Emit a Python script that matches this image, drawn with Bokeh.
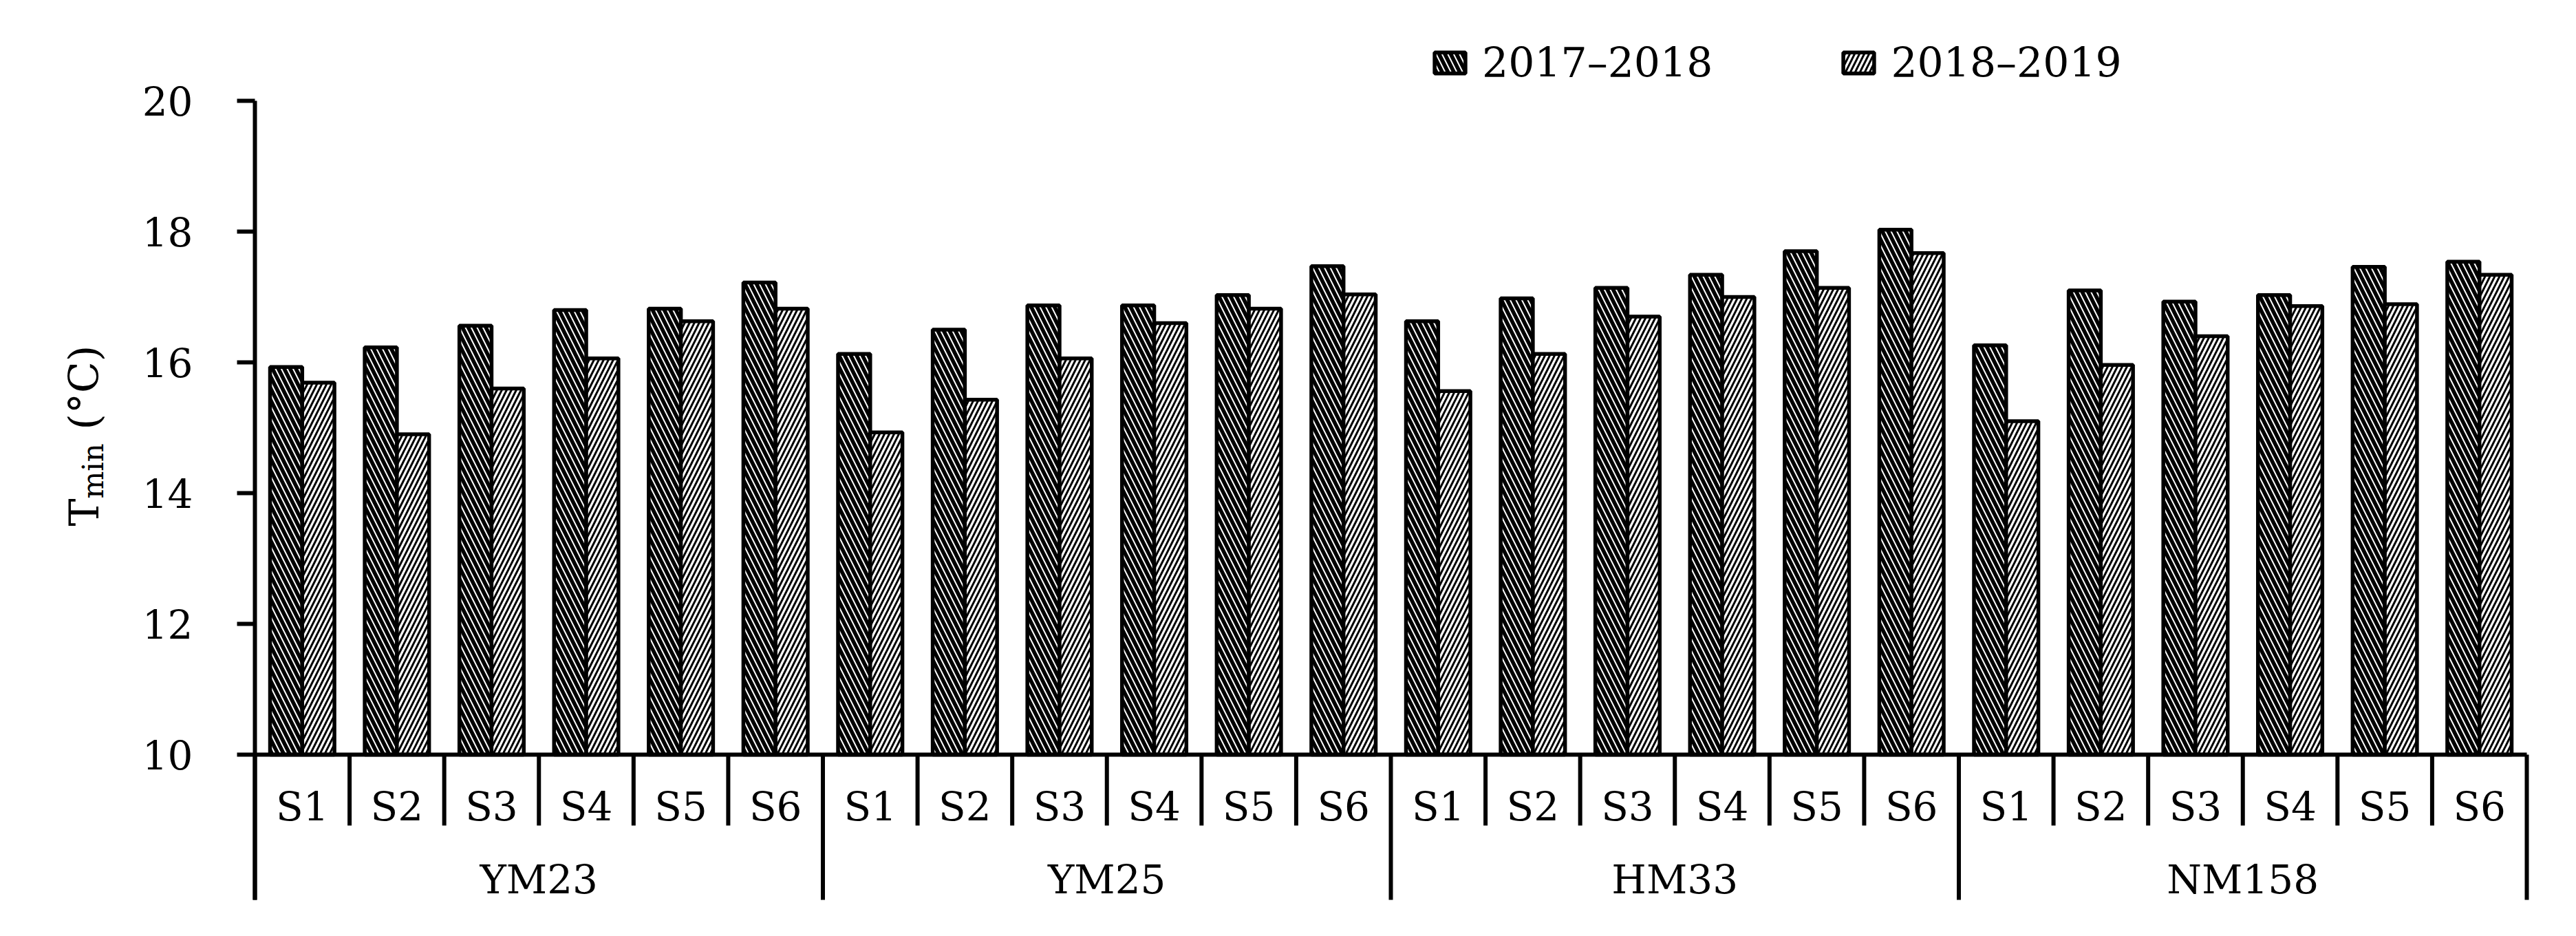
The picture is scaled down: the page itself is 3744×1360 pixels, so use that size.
import math
from bokeh.plotting import figure
from bokeh.models import (Range1d, ColumnDataSource, LinearAxis, FixedTicker, Legend,
                          LegendItem, Label)
from bokeh.transform import dodge
from bokeh.embed import file_html
from bokeh.resources import INLINE

# ---------------- data ----------------
groups = ["YM23", "YM25", "HM33", "NM158"]
stages = ["S1", "S2", "S3", "S4", "S5", "S6"]
series_names = ["2017\u20132018", "2018\u20132019"]
tmin_2017_2018 = [15.93, 16.23, 16.56, 16.80, 16.82, 17.22,
                  16.13, 16.50, 16.87, 16.87, 17.03, 17.47,
                  16.63, 16.98, 17.14, 17.34, 17.70, 18.03,
                  16.26, 17.10, 16.93, 17.03, 17.46, 17.54]
tmin_2018_2019 = [15.69, 14.90, 15.60, 16.06, 16.63, 16.82,
                  14.93, 15.43, 16.06, 16.60, 16.82, 17.04,
                  15.56, 16.13, 16.70, 17.00, 17.14, 17.67,
                  15.10, 15.96, 16.40, 16.86, 16.89, 17.34]
y_ticks = [10, 12, 14, 16, 18, 20]
y_label_main, y_label_sub, y_label_unit = "T", "min", "(\u00b0C)"

# ---------------- layout constants (pixels / styling only) ----------------
FONT = "DejaVu Serif"
W, H = 3728, 1344
LEFT_PX, RIGHT_PX = 370, 3672          # canvas x of the category block edges
TOP20_PX, BASE10_PX = 146, 1096        # canvas y of values 20 and 10
SHORT_PX, LONG_PX = 1199, 1307         # canvas y where separators end

n_cat = len(groups) * len(stages)
px_cat = (RIGHT_PX - LEFT_PX) / n_cat
px_unit = (BASE10_PX - TOP20_PX) / (y_ticks[-1] - y_ticks[0])
x_start = -LEFT_PX / px_cat
x_end = n_cat + (W - RIGHT_PX) / px_cat
y_end = y_ticks[-1] + TOP20_PX / px_unit
y_start = y_ticks[0] - (H - BASE10_PX) / px_unit
y_short = y_ticks[0] - (SHORT_PX - BASE10_PX) / px_unit
y_long = y_ticks[0] - (LONG_PX - BASE10_PX) / px_unit

# category positions on the numeric scale (centre of each category slot)
cat_pos = [i + 0.5 for i in range(n_cat)]
stage_labels = {c: stages[i % len(stages)] for i, c in enumerate(cat_pos)}
grp_pos = [len(stages) * (g + 0.5) for g in range(len(groups))]
grp_labels = {c: groups[i] for i, c in enumerate(grp_pos)}

src = ColumnDataSource(dict(x=cat_pos, a=tmin_2017_2018, b=tmin_2018_2019))

p = figure(width=W, height=H,
           x_range=Range1d(x_start, x_end), y_range=Range1d(y_start, y_end),
           x_axis_type=None, y_axis_type=None,
           output_backend="svg", toolbar_location=None,
           min_border_left=0, min_border_right=0, min_border_top=0, min_border_bottom=0)
p.outline_line_color = None
p.background_fill_color = "white"
p.border_fill_color = "white"
p.grid.visible = False

# bars
common = dict(source=src, width=0.34, bottom=y_ticks[0], line_color="black", line_width=5.5)
r1 = p.vbar(x=dodge("x", -0.17), top="a", fill_color="black",
            hatch_pattern="left_diagonal_line", hatch_color="white", hatch_weight=2,
            hatch_scale=17, **common)
r2 = p.vbar(x=dodge("x", 0.17), top="b", fill_color="white",
            hatch_pattern="right_diagonal_line", hatch_color="black", hatch_weight=3,
            hatch_scale=14, **common)

# category separators below the axis
bounds_x = list(range(n_cat + 1))
sep_y1 = [y_long if b % len(stages) == 0 else y_short for b in bounds_x]
p.segment(x0=bounds_x, x1=bounds_x, y0=y_ticks[0], y1=sep_y1,
          line_color="black", line_width=6)

# y axis
ya = LinearAxis(ticker=FixedTicker(ticks=y_ticks), fixed_location=0,
                bounds=(y_long, y_ticks[-1]))
ya.axis_line_width = 6
ya.axis_line_color = "black"
ya.major_tick_line_width = 6
ya.major_tick_out = 26
ya.major_tick_in = 0
ya.minor_tick_line_color = None
ya.major_label_standoff = 64
ya.major_label_text_font = FONT
ya.major_label_text_font_size = "58px"
ya.major_label_text_color = "black"
p.add_layout(ya, "left")

# x axis (stages) at value 10
xa = LinearAxis(ticker=FixedTicker(ticks=cat_pos), fixed_location=y_ticks[0],
                bounds=(0, n_cat))
xa.major_label_overrides = stage_labels
xa.axis_line_width = 6
xa.axis_line_color = "black"
xa.major_tick_line_color = None
xa.minor_tick_line_color = None
xa.major_label_standoff = 35
xa.major_label_text_font = FONT
xa.major_label_text_font_size = "58px"
xa.major_label_text_color = "black"
p.add_layout(xa, "below")

# group axis
ga = LinearAxis(ticker=FixedTicker(ticks=grp_pos), fixed_location=y_ticks[0])
ga.major_label_overrides = grp_labels
ga.axis_line_color = None
ga.major_tick_line_color = None
ga.minor_tick_line_color = None
ga.major_label_standoff = 141
ga.major_label_text_font = FONT
ga.major_label_text_font_size = "58px"
ga.major_label_text_color = "black"
p.add_layout(ga, "below")

# legend
legend = Legend(items=[LegendItem(label=series_names[0], renderers=[r1]),
                       LegendItem(label=series_names[1], renderers=[r2])],
                orientation="horizontal", location=(2079, H - 126),
                glyph_width=56, glyph_height=38, label_height=38,
                label_standoff=19, spacing=184, padding=0, margin=0,
                border_line_color=None, background_fill_alpha=0,
                label_text_font=FONT, label_text_font_size="60px",
                label_text_baseline="middle", label_text_color="black")
p.add_layout(legend)

# y axis title T_min (°C)
lab_common = dict(x_units="screen", y_units="screen", angle=math.pi / 2,
                  text_align="left", text_baseline="alphabetic",
                  text_font=FONT, text_color="black")
p.add_layout(Label(x=121, y=580, text=y_label_main, text_font_size="60px", **lab_common))
p.add_layout(Label(x=135, y=620, text=y_label_sub, text_font_size="42px", **lab_common))
p.add_layout(Label(x=121, y=720, text=y_label_unit, text_font_size="60px", **lab_common))

open("out.html", "w").write(file_html(p, INLINE))
